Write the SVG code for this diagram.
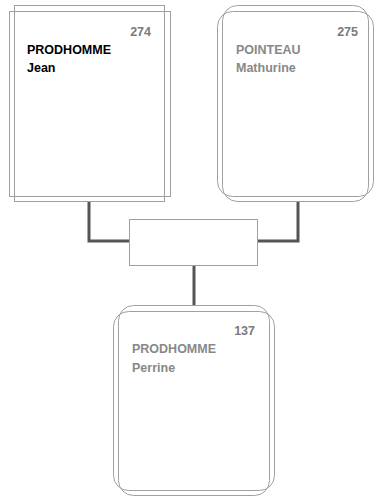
<svg xmlns="http://www.w3.org/2000/svg" width="374" height="497" viewBox="0 0 374 497">
<style>
.box{fill:none;stroke:#a0a0a0;stroke-width:1}
.conn{fill:none;stroke:#555;stroke-width:3}
text{font-family:"Liberation Sans",Arial,sans-serif;font-size:12.5px;font-weight:bold}
.num{fill:#7a7a7a;text-anchor:end}
.dark{fill:#000}
.light{fill:#888}
</style>
<rect width="374" height="497" fill="#fff"/>
<g id="connectors">
<polyline class="conn" points="89,201 89,241 129,241"/>
<polyline class="conn" points="298,201 298,241 257,241"/>
<line class="conn" x1="194" y1="266" x2="194" y2="305"/>
</g>
<g id="family">
<rect class="box" x="129.5" y="219.5" width="128" height="46" fill="#fff"/>
</g>
<g id="n274">
<rect class="box" x="9.5" y="11.5" width="161" height="185"/>
<rect class="box" x="14.5" y="5.5" width="150" height="196"/>
<text class="num" x="151" y="36">274</text>
<text class="dark" x="27" y="54">PRODHOMME</text>
<text class="dark" x="27" y="72">Jean</text>
</g>
<g id="n275">
<rect class="box" x="217.5" y="11.5" width="156" height="185" rx="15"/>
<rect class="box" x="222.5" y="5.5" width="146" height="196" rx="15"/>
<text class="num" x="358" y="36">275</text>
<text class="light" x="236" y="54">POINTEAU</text>
<text class="light" x="236" y="72">Mathurine</text>
</g>
<g id="n137">
<rect class="box" x="113.5" y="311.5" width="161" height="179" rx="15"/>
<rect class="box" x="118.5" y="305.5" width="151" height="190" rx="15"/>
<text class="num" x="255" y="335">137</text>
<text class="light" x="132" y="353">PRODHOMME</text>
<text class="light" x="132" y="371.5">Perrine</text>
</g>
</svg>
